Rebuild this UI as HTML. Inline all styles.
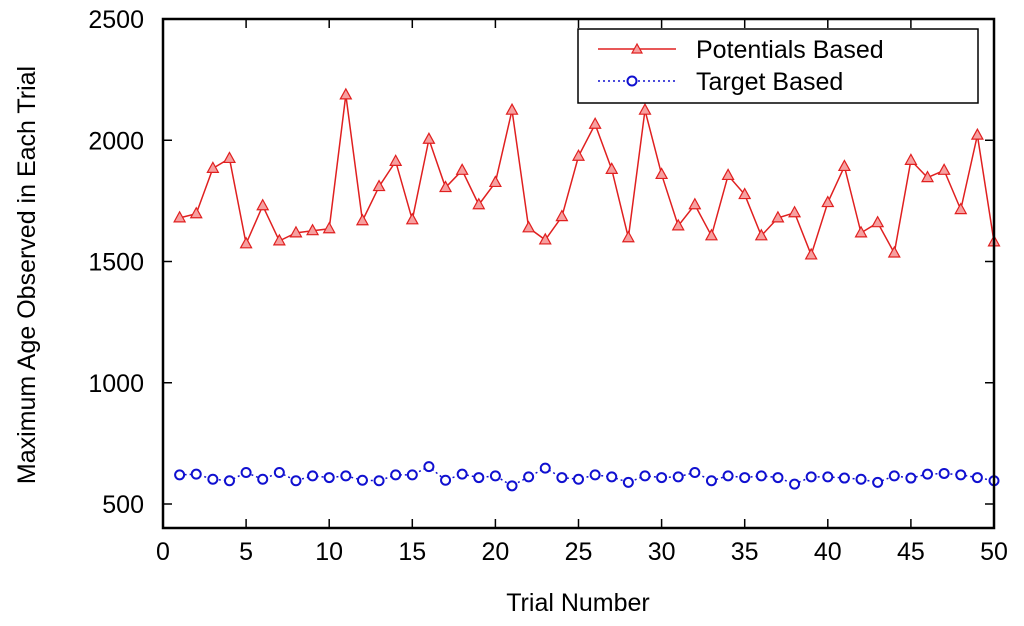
<!DOCTYPE html>
<html><head><meta charset="utf-8"><style>
html,body{margin:0;padding:0;background:#fff;}
svg text{font-family:"Liberation Sans",sans-serif;fill:#000;}
</style></head><body>
<svg id="chart" width="1024" height="621" xmlns="http://www.w3.org/2000/svg">
<g id="grid"></g>
<g id="series"></g>
<rect x="163" y="19" width="831" height="509" fill="none" stroke="#000" stroke-width="2.5"/>
<text x="578" y="611" font-size="25" text-anchor="middle">Trial Number</text>
<text transform="translate(35,275) rotate(-90)" font-size="25" text-anchor="middle">Maximum Age Observed in Each Trial</text>
<g>
<rect x="578" y="29" width="400" height="74" fill="#fff" stroke="#000" stroke-width="1.5"/>
<g>
<line x1="598" y1="49" x2="676" y2="49" stroke="#e02020" stroke-width="1.5"/>
<polygon points="637,44 632,53 642,53" fill="#f6a0a0" stroke="#e02020" stroke-width="1.2"/>
<text x="696" y="58" font-size="25">Potentials Based</text>
</g>
<g>
<line x1="598" y1="81" x2="676" y2="81" stroke="#1010d0" stroke-width="1.5" stroke-dasharray="2,3"/>
<circle cx="632" cy="81" r="4.5" fill="#fff" stroke="#1010d0" stroke-width="2"/>
<text x="696" y="90" font-size="25">Target Based</text>
</g>
</g>
</svg>
<script>
const trials = Array.from({length:50},(_,i)=>i+1);
const potentialsBased = [1680,1697,1884,1925,1573,1730,1585,1618,1627,1635,2187,1668,1809,1913,1672,2004,1805,1876,1734,1826,2124,1639,1589,1685,1934,2066,1880,1598,2124,1859,1647,1734,1606,1855,1776,1606,1680,1701,1527,1743,1892,1618,1660,1535,1917,1846,1876,1714,2021,1581];
const targetBased = [620,623,602,596,630,602,630,596,616,609,616,598,596,620,620,654,598,623,609,616,575,612,648,609,602,620,612,589,616,609,612,630,596,616,609,616,609,582,612,612,607,602,589,616,607,623,626,620,609,596];
const xTicks = [0,5,10,15,20,25,30,35,40,45,50];
const yTicks = [500,1000,1500,2000,2500];
const NS="http://www.w3.org/2000/svg";
const X0=163,X1=994,Y0=528,Y1=19;
const xs=v=>X0+(v-0)/50*(X1-X0);
const ys=v=>504-(v-500)*(504-Y1)/2000;
function mk(tag,attrs,parent){const e=document.createElementNS(NS,tag);for(const k in attrs)e.setAttribute(k,attrs[k]);parent.appendChild(e);return e;}
const grid=document.getElementById('grid'), ser=document.getElementById('series');
xTicks.forEach(t=>{
  const x=xs(t);
  let l=mk('line',{x1:x,y1:Y0,x2:x,y2:Y0-9,stroke:'#000','stroke-width':1.5},grid);
  
  
  let l2=mk('line',{x1:x,y1:Y1,x2:x,y2:Y1+9,stroke:'#000','stroke-width':1.5},grid);
  
  
  let tx=mk('text',{x:x,y:560,'font-size':25,'text-anchor':'middle'},grid);tx.textContent=t;
  
  
});
yTicks.forEach(t=>{
  const y=ys(t);
  let l=mk('line',{x1:X0,y1:y,x2:X0+9,y2:y,stroke:'#000','stroke-width':1.5},grid);
  
  
  let l2=mk('line',{x1:X1,y1:y,x2:X1-9,y2:y,stroke:'#000','stroke-width':1.5},grid);
  
  
  let tx=mk('text',{x:144,y:y+9,'font-size':25,'text-anchor':'end'},grid);tx.textContent=t;
  
  
});
let p1=mk('polyline',{points:trials.map((t,i)=>xs(t)+','+ys(potentialsBased[i])).join(' '),fill:'none',stroke:'#e02020','stroke-width':1.5},ser);


let p2=mk('polyline',{points:trials.map((t,i)=>xs(t)+','+ys(targetBased[i])).join(' '),fill:'none',stroke:'#1010d0','stroke-width':1.5,'stroke-dasharray':'2,3'},ser);


trials.forEach((t,i)=>{
  const x=xs(t),y=ys(potentialsBased[i]);
  let m=mk('polygon',{points:`${x},${y-6} ${x-5.5},${y+4} ${x+5.5},${y+4}`,fill:'#f6a0a0',stroke:'#e02020','stroke-width':1.2},ser);
  
  
  let c=mk('circle',{cx:x,cy:ys(targetBased[i]),r:4.5,fill:'#fff',stroke:'#1010d0','stroke-width':2},ser);
  
  
});
</script>
</body></html>
